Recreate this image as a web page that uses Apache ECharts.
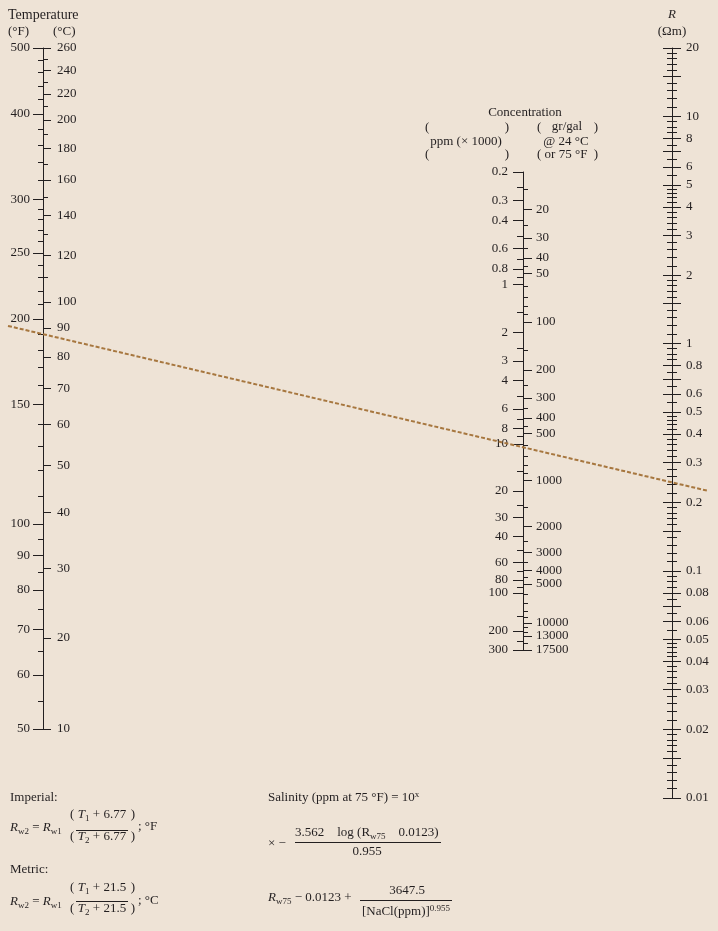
<!DOCTYPE html>
<html>
<head>
<meta charset="utf-8">
<title>Water resistivity nomograph</title>
<script src="https://cdn.jsdelivr.net/npm/echarts@6/dist/echarts.min.js"></script>
<style>
  html, body { margin: 0; padding: 0; background: #eee3d6; }
  #chart { width: 718px; height: 931px; }
</style>
</head>
<body>
<div id="chart"></div>
<script>
// temperature scale: °F on the left side of the line, °C on the right
const fLabels = [50, 60, 70, 80, 90, 100, 150, 200, 250, 300, 400, 500];
const fMinor = [55, 65, 75, 85, 95, 110, 120, 130, 140, 160, 170, 180, 190,
  210, 220, 230, 240, 260, 270, 280, 290, 320, 340, 360, 380, 420, 440, 460, 480];
const cLabels = [10, 20, 30, 40, 50, 60, 70, 80, 90, 100, 120, 140, 160, 180, 200, 220, 240, 260];
const cMinor = [110, 130, 150, 170, 190, 210, 230, 250];

// concentration scale: ppm (x 1000) on the left, gr/gal on the right
const ppmLabels = [0.2, 0.3, 0.4, 0.6, 0.8, 1, 2, 3, 4, 6, 8, 10, 20, 30, 40, 60, 80, 100, 200, 300];
const ppmMinor = [0.25, 0.5, 0.7, 0.9, 1.5, 2.5, 5, 7, 9, 15, 25, 50, 70, 90, 150, 250];
const grLabels = [20, 30, 40, 50, 100, 200, 300, 400, 500, 1000, 2000, 3000, 4000, 5000, 10000, 13000, 17500];
const grMinor = [15, 25, 35, 45, 60, 70, 80, 90, 150, 250, 350, 450, 600, 700, 800, 900,
  1500, 2500, 3500, 4500, 6000, 7000, 8000, 9000, 11000, 12000, 15000];

// resistivity scale (ohm m)
const rLabels = [20, 10, 8, 6, 5, 4, 3, 2, 1, 0.8, 0.6, 0.5, 0.4, 0.3, 0.2, 0.1,
  0.08, 0.06, 0.05, 0.04, 0.03, 0.02, 0.01];
const rLong = [15, 7, 1.5, 0.7, 0.15, 0.07, 0.015];
const rMinorMantissa = [1.1, 1.2, 1.3, 1.4, 1.6, 1.7, 1.8, 1.9, 2.2, 2.4, 2.6, 2.8,
  3.2, 3.4, 3.6, 3.8, 4.2, 4.4, 4.6, 4.8, 5.5, 6.5, 7.5, 8.5, 9, 9.5];
const rDecades = [0.01, 0.1, 1, 10];

// example reading drawn across the chart (190 °F -> about 0.245 ohm m)
const lineTempF = 190;
const lineR = 0.245;

const ink = '#231f20';
const FAMILY = '"Liberation Serif", "DejaVu Serif", serif';
const FONT = '13px ' + FAMILY;

const log10 = Math.log10;
const tPos = f => log10(f);
const cToF = c => c * 9 / 5 + 32;
// Rw at 75 °F for NaCl ppm
const rw75 = ppm => 0.0123 + 3647.5 / Math.pow(ppm, 0.955);
const ppmPos = k => log10(rw75(k * 1000));
const grPos = g => log10(rw75(g * 17.12));
const nearest = (list, pos, v) =>
  list.reduce((a, b) => Math.abs(pos(b) - v) < Math.abs(pos(a) - v) ? b : a);

const rMinor = [];
rDecades.forEach(d => rMinorMantissa.forEach(m => {
  const v = +(m * d).toPrecision(4);
  if (v <= 20) rMinor.push(v);
}));

function scaleAxis(grid, min, max, o) {
  return {
    type: 'value', gridIndex: grid, position: 'left', min: min, max: max,
    splitLine: { show: false },
    axisLine: { show: !!o.line, onZero: false, lineStyle: { color: ink, width: 1 } },
    axisTick: { show: true, inside: !!o.inside, length: o.len, customValues: o.ticks,
      lineStyle: { color: ink, width: 1 } },
    axisLabel: o.labels ? {
      show: true, inside: !!o.inside, margin: o.margin, customValues: o.labels,
      formatter: o.fmt, color: ink, fontFamily: FAMILY, fontSize: 13
    } : { show: false }
  };
}

const tMin = tPos(50), tMax = tPos(500);
const cMin = ppmPos(300), cMax = ppmPos(0.2);
const rMin = log10(0.01), rMax = log10(20);

const yAxis = [
  scaleAxis(0, tMin, tMax, { line: true, len: 10, margin: 13, ticks: fLabels.map(tPos),
    labels: fLabels.map(tPos), fmt: v => String(Math.round(10 ** v)) }),
  scaleAxis(0, tMin, tMax, { len: 5, ticks: fMinor.map(tPos) }),
  scaleAxis(0, tMin, tMax, { inside: true, len: 8, margin: 14, ticks: cLabels.map(c => tPos(cToF(c))),
    labels: cLabels.map(c => tPos(cToF(c))), fmt: v => String(Math.round((10 ** v - 32) * 5 / 9)) }),
  scaleAxis(0, tMin, tMax, { inside: true, len: 5, ticks: cMinor.map(c => tPos(cToF(c))) }),

  scaleAxis(1, cMin, cMax, { line: true, len: 10, margin: 15, ticks: ppmLabels.map(ppmPos),
    labels: ppmLabels.map(ppmPos), fmt: v => String(nearest(ppmLabels, ppmPos, v)) }),
  scaleAxis(1, cMin, cMax, { len: 6, ticks: ppmMinor.map(ppmPos) }),
  scaleAxis(1, cMin, cMax, { inside: true, len: 9, margin: 13, ticks: grLabels.map(grPos),
    labels: grLabels.map(grPos), fmt: v => String(nearest(grLabels, grPos, v)) }),
  scaleAxis(1, cMin, cMax, { inside: true, len: 5, ticks: grMinor.map(grPos) }),

  scaleAxis(2, rMin, rMax, { line: true, inside: true, len: 9, margin: 14,
    ticks: rLabels.concat(rLong).map(log10), labels: rLabels.map(log10),
    fmt: v => String(+(10 ** v).toPrecision(6)) }),
  scaleAxis(2, rMin, rMax, { len: 9, ticks: rLabels.concat(rLong).map(log10) }),
  scaleAxis(2, rMin, rMax, { inside: true, len: 5, ticks: rMinor.map(log10) }),
  scaleAxis(2, rMin, rMax, { len: 5, ticks: rMinor.map(log10) })
];

function txt(id, x, y, text, extra) {
  return { type: 'text', id: id, x: x, y: y, silent: true,
    style: Object.assign({ text: text, font: FONT, fill: ink, align: 'left', verticalAlign: 'middle' }, extra || {}) };
}
function bar(id, x1, x2, y) {
  return { type: 'line', id: id, silent: true, shape: { x1: x1, y1: y, x2: x2, y2: y },
    style: { stroke: ink, lineWidth: 1 } };
}
const rich = {
  i: { font: 'italic 13px ' + FAMILY, lineHeight: 16 },
  s: { font: '9px ' + FAMILY, verticalAlign: 'bottom' },
  u: { font: '9px ' + FAMILY, verticalAlign: 'top' }
};
function math(id, x, y, text, extra) {
  return txt(id, x, y, text, Object.assign({ rich: rich, lineHeight: 16 }, extra || {}));
}

const labels = [
  txt('t-title', 8, 15, 'Temperature', { font: '14px ' + FAMILY }),
  txt('t-f', 8, 32, '(°F)'),
  txt('t-c', 53, 32, '(°C)'),
  txt('r-title', 672, 15, 'R', { align: 'center', font: 'italic ' + FONT }),
  txt('r-unit', 672, 32, '(Ωm)', { align: 'center' }),
  txt('c-title', 525, 113, 'Concentration', { align: 'center' }),
  txt('c-p1', 425, 128, '('), txt('c-p2', 425, 155, '('),
  txt('c-p3', 509, 128, ')', { align: 'right' }), txt('c-p4', 509, 155, ')', { align: 'right' }),
  txt('c-ppm', 466, 142, 'ppm (× 1000)', { align: 'center' }),
  txt('c-g1', 537, 128, '('), txt('c-g2', 537, 155, '('),
  txt('c-g3', 598, 128, ')', { align: 'right' }), txt('c-g4', 598, 155, ')', { align: 'right' }),
  txt('c-gr1', 567, 127, 'gr/gal', { align: 'center' }),
  txt('c-gr2', 566, 142, '@ 24 °C', { align: 'center' }),
  txt('c-gr3', 566, 155, 'or 75 °F', { align: 'center' }),

  txt('f-imp', 10, 798, 'Imperial:'),
  math('f-imp-r', 10, 828, '{i|R}{s|w2} = {i|R}{s|w1}'),
  txt('f-imp-p1', 70, 815, '('), txt('f-imp-p2', 70, 837, '('),
  txt('f-imp-p3', 135, 815, ')', { align: 'right' }), txt('f-imp-p4', 135, 837, ')', { align: 'right' }),
  math('f-imp-n', 102, 815, '{i|T}{s|1} + 6.77', { align: 'center' }),
  bar('f-imp-b', 76, 128, 830.5),
  math('f-imp-d', 102, 837, '{i|T}{s|2} + 6.77', { align: 'center' }),
  txt('f-imp-u', 138, 827, '; °F'),

  txt('f-met', 10, 870, 'Metric:'),
  math('f-met-r', 10, 902, '{i|R}{s|w2} = {i|R}{s|w1}'),
  txt('f-met-p1', 70, 888, '('), txt('f-met-p2', 70, 909, '('),
  txt('f-met-p3', 135, 888, ')', { align: 'right' }), txt('f-met-p4', 135, 909, ')', { align: 'right' }),
  math('f-met-n', 102, 888, '{i|T}{s|1} + 21.5', { align: 'center' }),
  bar('f-met-b', 76, 128, 901.5),
  math('f-met-d', 102, 909, '{i|T}{s|2} + 21.5', { align: 'center' }),
  txt('f-met-u', 138, 901, '; °C'),

  math('f-sal', 268, 798, 'Salinity (ppm at 75 °F) = 10{u|x}'),
  txt('f-sal-x', 268, 844, '× −'),
  math('f-sal-n', 295, 833, '3.562    log (R{s|w75}    0.0123)'),
  bar('f-sal-b', 295, 441, 842.5),
  txt('f-sal-d', 367, 852, '0.955', { align: 'center' }),
  math('f-rw', 268, 898, '{i|R}{s|w75} − 0.0123 +'),
  txt('f-rw-n', 407, 891, '3647.5', { align: 'center' }),
  bar('f-rw-b', 360, 452, 900.5),
  math('f-rw-d', 406, 912, '[NaCl(ppm)]{u|0.955}', { align: 'center' })
];

const chart = echarts.init(document.getElementById('chart'));
chart.setOption({
  backgroundColor: '#eee3d6',
  animation: false,
  grid: [
    { left: 43, top: 48, bottom: 202, width: 1 },
    { left: 523, top: 172, bottom: 281, width: 1 },
    { left: 672, top: 48, bottom: 133, width: 1 }
  ].map(g => Object.assign({ show: false, containLabel: false, outerBoundsMode: 'none' }, g)),
  xAxis: [0, 1, 2].map(i => ({ type: 'value', gridIndex: i, min: 0, max: 1, show: false })),
  yAxis: yAxis,
  series: [],
  graphic: { elements: labels }
});

// reading line: through the temperature and resistivity points, extended past both end scales
const pT = chart.convertToPixel({ xAxisIndex: 0, yAxisIndex: 0 }, [0, tPos(lineTempF)]);
const pR = chart.convertToPixel({ xAxisIndex: 2, yAxisIndex: 8 }, [0, log10(lineR)]);
const slope = (pR[1] - pT[1]) / (pR[0] - pT[0]);
const xa = pT[0] - 35, xb = pR[0] + 35;
chart.setOption({
  graphic: { elements: [{
    type: 'polyline', id: 'reading', silent: true, z: 10,
    shape: { points: [[xa, pT[1] + slope * (xa - pT[0])], [xb, pT[1] + slope * (xb - pT[0])]] },
    style: { stroke: '#a7773f', lineWidth: 2, lineDash: [4, 2] }
  }] }
});
</script>
</body>
</html>
